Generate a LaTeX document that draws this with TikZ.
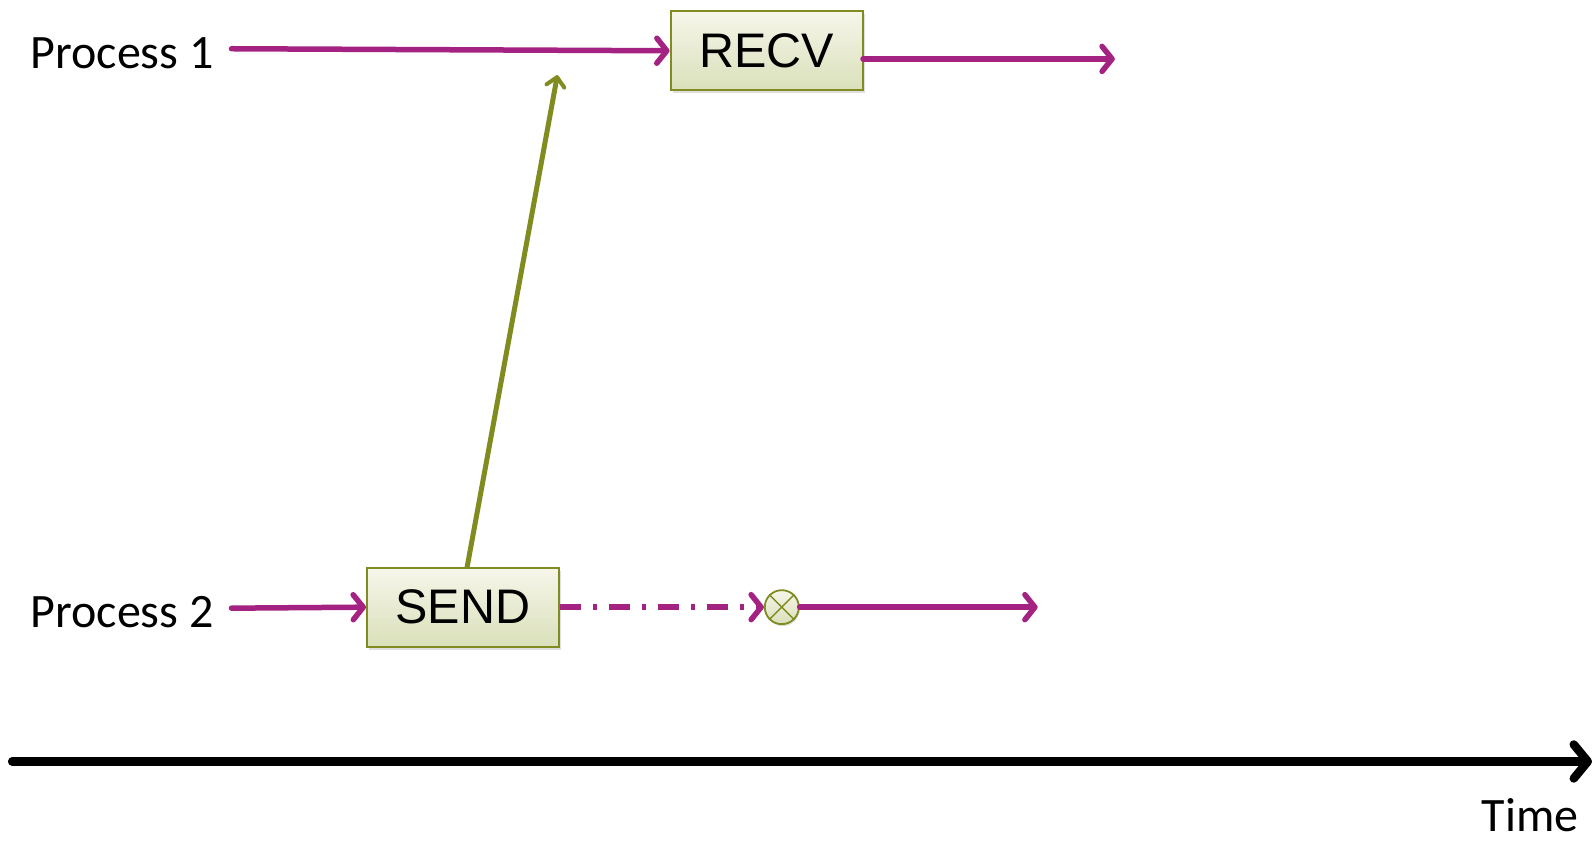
\documentclass[tikz,border=0pt]{standalone}
\usepackage{fontspec}
\setmainfont{Carlito}
\newfontfamily\boxfont{Liberation Sans}
\usetikzlibrary{arrows.meta,shadows}
\definecolor{mag}{RGB}{164,34,130}
\definecolor{olive}{RGB}{128,140,32}
\definecolor{boxtop}{RGB}{246,246,234}
\definecolor{boxbot}{RGB}{218,224,186}
\tikzset{
  x=1.0153pt,y=-1.0153pt,
  lbl/.style={font=\fontsize{48}{52}\selectfont, inner sep=0pt},
  opbox/.style={draw=olive, line width=2pt, top color=boxtop, bottom color=boxbot,
    minimum width=192pt, minimum height=79pt, font=\boxfont\fontsize{48.5}{52}\selectfont,
    drop shadow={shadow xshift=2pt, shadow yshift=-3pt, opacity=0.25}},
  flow/.style={draw=mag, line width=5.5pt, line cap=round,
    -{Straight Barb[length=10pt,width=25pt,line width=5.5pt,round]}},
  msg/.style={draw=olive, line width=5pt,
    -{Straight Barb[length=9pt,width=18pt,line width=4pt,round]}},
  dashdot/.style={dash pattern=on 21pt off 12pt on 4pt off 12pt, line cap=butt},
}
\begin{document}
\begin{tikzpicture}
\useasboundingbox (0,0) rectangle (1568,829.3);
% labels
\node[lbl, anchor=west] (p1) at (30,52) {Process 1};
\node[lbl, anchor=west] (p2) at (30,603) {Process 2};
\node[lbl, anchor=base east, text depth=0pt] (time) at (1555,819) {Time};
% boxes
\node[opbox] (recv) at (755,50) {RECV};
\node[opbox] (send) at (456,598) {SEND};
\node[circle, draw=olive, line width=1.8pt, top color=boxtop, bottom color=boxbot,
  minimum size=34pt, inner sep=0pt,
  drop shadow={shadow xshift=1pt, shadow yshift=-2pt, opacity=0.25}] (stop) at (770,598) {};
\draw[olive, line width=1.4pt] (stop.45) -- (stop.225) (stop.135) -- (stop.315);
% coordinates
\coordinate (p1s) at (228,48);
\coordinate (p2s) at (228,599);
\coordinate (recvout) at (1098,58);
\coordinate (stopout) at (1022,598);
\coordinate (msgtip) at (549,74);
\coordinate (ax0) at (12,750);
\coordinate (ax1) at (1568,750);
% flows
\draw[flow] (p1s) -- (recv.west);
\draw[flow] (850,58) -- (recvout);
\draw[flow] (p2s) -- (send.west);
\draw[flow, dashdot] (send.east) -- (stop.west);
\draw[flow] (stop.east) -- (stopout);
\draw[msg] (460,559) -- (msgtip);
% time axis
\draw[line width=8.5pt, line cap=round, -{Straight Barb[length=14pt,width=34pt,line width=8.5pt,round]}] (ax0) -- (ax1);
\end{tikzpicture}
\end{document}
